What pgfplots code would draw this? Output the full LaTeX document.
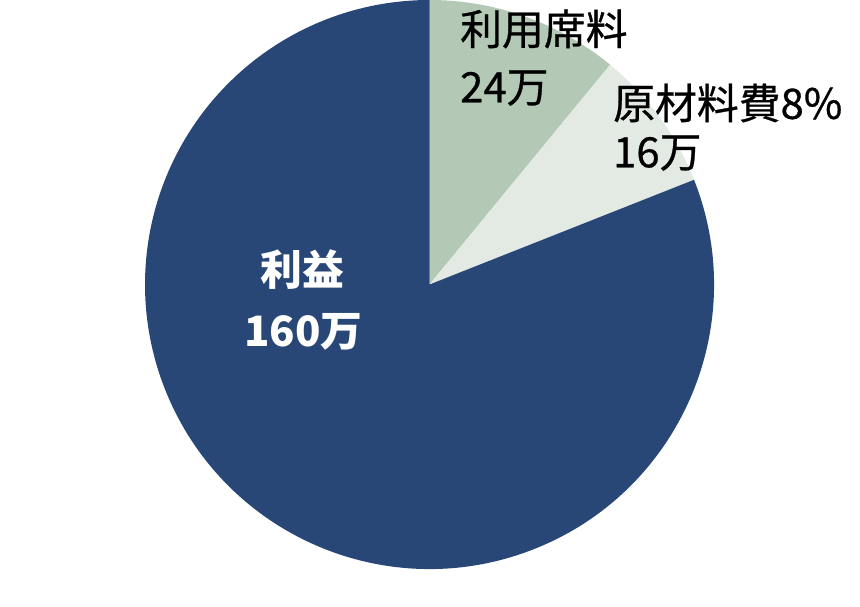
\documentclass[border=0pt]{standalone}
\usepackage{fontspec}
\setmainfont{Noto Sans CJK JP}
\newfontfamily\medfont[FakeBold=0.7]{Noto Sans CJK JP}
\usepackage{pgfplots}
\usepackage{pgfplotstable}
\pgfplotsset{compat=1.18}

\definecolor{seat}{HTML}{B3C8B5}
\definecolor{material}{HTML}{E3EAE4}
\definecolor{profit}{HTML}{284777}

% share of each slice in percent, clockwise from 12 o'clock
\pgfplotstableread{
name     share colour
seat     10.95 seat
material  8.05 material
profit   81.00 profit
}\piedata

\def\R{284.5}

\begin{document}
\begin{tikzpicture}
\begin{axis}[
    width=860bp, height=604bp,
    scale only axis,
    hide axis,
    clip=false,
    xmin=-429.5, xmax=430.5,
    ymin=-319.5, ymax=284.5,
]
\pgfplotsextra{
    \path (axis cs:-429.5,-319.5) rectangle (axis cs:430.5,284.5);
    \pgfplotstablegetrowsof{\piedata}
    \pgfmathtruncatemacro\N{\pgfplotsretval-1}
    \gdef\startangle{90}
    \foreach \i in {0,...,\N}{
        \pgfplotstablegetelem{\i}{share}\of{\piedata}
        \pgfmathsetmacro\endangle{\startangle-3.6*\pgfplotsretval}
        \pgfplotstablegetelem{\i}{colour}\of{\piedata}
        \edef\slicecol{\pgfplotsretval}
        \fill[\slicecol] (axis cs:0,0)
            -- (axis cs:{\R*cos(\startangle)},{\R*sin(\startangle)})
            arc[start angle=\startangle, end angle=\endangle, radius=\R bp]
            -- cycle;
        \xdef\startangle{\endangle}
    }
}
\begin{scope}[every node/.style={inner sep=0pt, font=\fontsize{42}{50}\medfont}]
\node[anchor=west, black] at (axis cs:30.5,255.5) {利用席料};
\node[anchor=west, black] at (axis cs:30.5,196.5) {24万};
\node[anchor=west, black] at (axis cs:183.5,181.5) {原材料費8\%};
\node[anchor=west, black] at (axis cs:183.5,131.5) {16万};
\node[white, font=\fontsize{42}{50}\selectfont\bfseries] at (axis cs:-127,14.5) {利益};
\node[white, font=\fontsize{42}{50}\selectfont\bfseries] at (axis cs:-126,-47.5) {160万};
\end{scope}
\end{axis}
\end{tikzpicture}
\end{document}
